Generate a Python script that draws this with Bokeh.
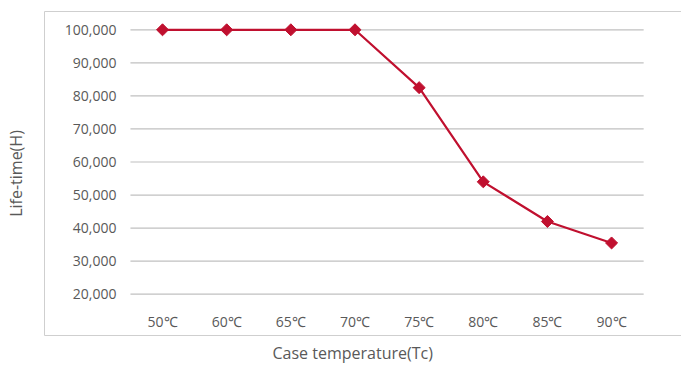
import math
from bokeh.plotting import figure
from bokeh.models import Range1d, LinearAxis, FixedTicker, NumeralTickFormatter, Title
from bokeh.embed import file_html
from bokeh.resources import INLINE

temps = ["50℃", "60℃", "65℃", "70℃", "75℃", "80℃", "85℃", "90℃"]
life = [100000, 100000, 100000, 100000, 82500, 54000, 42000, 35500]
yticks = [20000, 30000, 40000, 50000, 60000, 70000, 80000, 90000, 100000]

idx = list(range(len(temps)))
n = len(temps)

W, H = 681, 369
p = figure(width=W, height=H, output_backend="svg", toolbar_location=None,
           x_range=Range1d(-1.84, 8.09), y_range=Range1d(7504, 105537),
           x_axis_location=None, y_axis_location=None,
           min_border_left=44, min_border_right=0, min_border_top=11, min_border_bottom=34)
p.outline_line_color = None
p.background_fill_color = None
p.border_fill_color = "white"
p.grid.visible = False

BORDER = "#cfcfcf"
TXT = "#595959"
FONT = "Open Sans"

def frame_axis(label=None):
    ax = LinearAxis(ticker=FixedTicker(ticks=[]), axis_line_color=BORDER, axis_line_width=1,
                    major_tick_line_color=None, minor_tick_line_color=None,
                    major_tick_out=0, major_tick_in=0, minor_tick_out=0, minor_tick_in=0,
                    major_label_standoff=0, major_label_text_font_size="0px")
    if label:
        ax.axis_label = label
        ax.axis_label_text_font = FONT
        ax.axis_label_text_font_size = "16px"
        ax.axis_label_text_font_style = "normal"
        ax.axis_label_text_color = TXT
    return ax

# border lines + axis titles
ly = frame_axis("Life-time(H)")
ly.axis_label_standoff = 18
p.add_layout(ly, "left")
p.add_layout(frame_axis(), "below")
p.add_layout(frame_axis(), "above")
p.add_layout(Title(text="Case temperature(Tc)", align="left", offset=228,
                   text_font=FONT, text_font_size="16px", text_font_style="normal",
                   text_color=TXT, standoff=8), "below")

# value axis (tick labels inside the box)
ya = LinearAxis(ticker=FixedTicker(ticks=yticks), formatter=NumeralTickFormatter(format="0,0"),
                fixed_location=-0.5, axis_line_color=None,
                major_tick_line_color=None, minor_tick_line_color=None,
                major_tick_out=0, major_tick_in=0, minor_tick_out=0, minor_tick_in=0,
                major_label_standoff=14, major_label_text_font=FONT,
                major_label_text_font_size="14px", major_label_text_color=TXT)
p.add_layout(ya, "left")

# category axis
xa = LinearAxis(ticker=FixedTicker(ticks=idx),
                major_label_overrides={i: t for i, t in zip(idx, temps)},
                fixed_location=yticks[0], axis_line_color=None,
                major_tick_line_color=None, minor_tick_line_color=None,
                major_tick_out=0, major_tick_in=0, minor_tick_out=0, minor_tick_in=0,
                major_label_standoff=18, major_label_text_font=FONT,
                major_label_text_font_size="14px", major_label_text_color=TXT)
p.add_layout(xa, "below")

# horizontal gridlines across the category band
p.segment(x0=[-0.5] * len(yticks), x1=[n - 0.5] * len(yticks), y0=yticks, y1=yticks,
          line_color="#c0c0c0", line_width=1.2)

color = "#c0102f"
p.line(idx, life, line_color=color, line_width=2.2)
p.scatter(idx, life, marker="square", angle=math.pi / 4, size=8.5,
          fill_color=color, line_color=color, line_width=1)

open("out.html", "w").write(file_html(p, INLINE))
